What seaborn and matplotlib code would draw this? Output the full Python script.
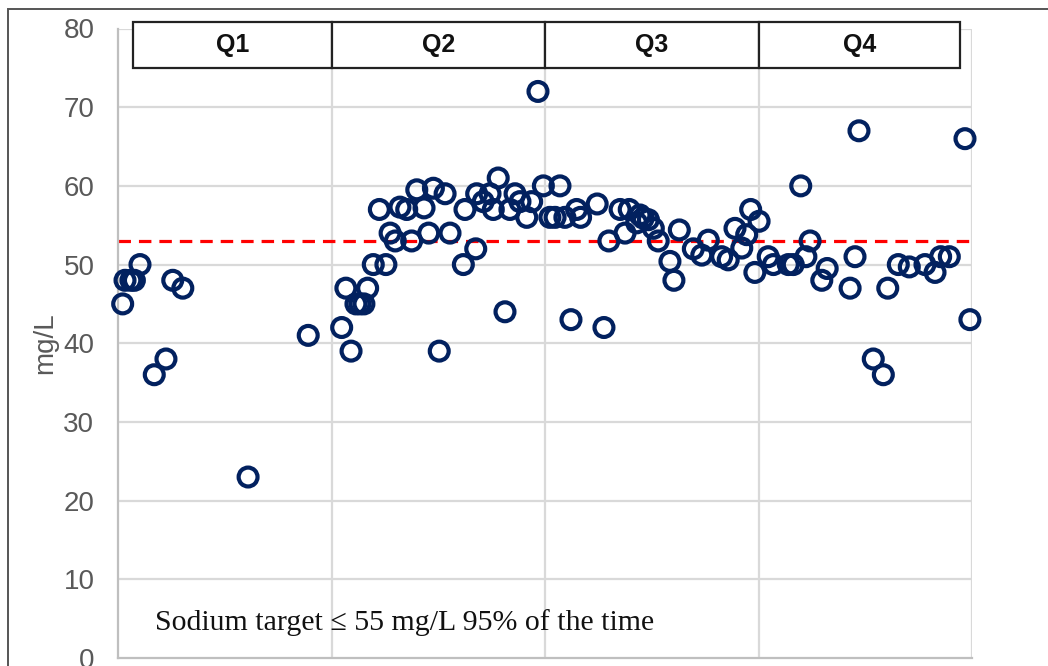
import matplotlib
matplotlib.use("Agg")
import matplotlib.pyplot as plt
from matplotlib.patches import Rectangle
import pandas as pd
import seaborn as sns

# Sampling day of the year for each sodium result
sample_day = [
    2, 3, 5.5, 7, 9.4, 15.5, 20.5, 23.4, 27.7, 55.6, 81.3,
    95.6, 97.4, 99.6, 101.7, 103.4, 105.1, 106.7, 109.1, 111.7, 114.5,
    116.3, 118.5, 120.5, 123.4, 125.5, 127.7, 130.8, 132.8, 134.8, 137.3,
    139.8, 141.9, 147.6, 148.3, 152.9, 153.3, 156.1, 159.0, 160.4, 162.5,
    165.4, 167.5, 169.7, 171.8, 174.7, 176.8, 179.5, 181.8, 184.6,
    186.8, 188.9, 191.0, 193.6, 196.0, 197.7, 204.8, 207.7, 209.8, 214.6,
    216.7, 218.5, 221.7, 223.1, 224.5, 226.7, 228.8, 230.9, 235.9, 237.6,
    239.9, 245.9, 249.5, 252.3, 258.0, 260.8, 263.7, 266.6, 268.7, 270.4,
    272.2, 274.0,
    277.9, 280.1, 286.5, 288.6, 291.8, 294.0, 295.8, 300.8, 303.1, 312.9,
    315.0, 316.7, 322.8, 327.1, 329.0, 333.5, 338.2, 344.9, 349.2, 351.6,
    355.3, 362.0, 364.1,
]

# Sodium concentration (mg/L)
sodium_mg_l = [
    45, 48, 48, 48, 50, 36, 38, 48, 47, 23, 41,
    42, 47, 39, 45, 45, 45, 47, 50, 57, 50,
    54, 53, 57.3, 57, 53, 59.5, 57.2, 54, 59.7, 39,
    59, 54, 50, 57, 52, 59, 58, 59, 57, 61,
    44, 57, 59, 58, 56, 58, 72, 60, 56,
    56, 60, 56, 43, 57, 56, 57.7, 42, 53, 57,
    54, 57, 55.3, 56.3, 55.9, 55.7, 54.6, 53, 50.4, 48,
    54.4, 52, 51.2, 53.1, 51, 50.6, 54.6, 52.1, 53.8, 57,
    49, 55.5,
    51, 50, 50, 50, 60, 51, 53, 48, 49.5, 47,
    51, 67, 38, 36, 47, 50, 49.7, 50, 49, 51,
    51, 66, 43,
]

quarter_labels = ["Q1", "Q2", "Q3", "Q4"]
quarter_edges = [0, 91.25, 182.5, 273.75, 365]
target_level = 53
y_ticks = [0, 10, 20, 30, 40, 50, 60, 70, 80]
note_text = "Sodium target \u2264 55 mg/L 95% of the time"

df = pd.DataFrame({"day": sample_day, "sodium": sodium_mg_l})

sns.set_theme(style="white")
plt.rcParams["font.family"] = ["Liberation Sans", "DejaVu Sans"]

fig = plt.figure(figsize=(10.48, 6.66), dpi=100)
ax = fig.add_axes([118 / 1048, 1 - 658 / 666, (972 - 118) / 1048, (658 - 28.5) / 666])

# Outer frame of the figure
fig.patches.append(Rectangle((8 / 1048, -0.05), 1.2, 1 - 9 / 666 + 0.05,
                             transform=fig.transFigure, fill=False,
                             edgecolor="#555555", linewidth=1.4, zorder=0))

# Grid lines
for yv in y_ticks[1:]:
    ax.axhline(yv, color="#d9d9d9", linewidth=1.6, zorder=0)
for xv in quarter_edges[1:]:
    ax.axvline(xv, color="#d9d9d9", linewidth=1.6, zorder=0)

sns.scatterplot(data=df, x="day", y="sodium", ax=ax, marker="o", s=185,
                facecolor="none", edgecolor="#02215f", linewidth=3.0,
                zorder=3, legend=False, clip_on=False)

ax.axhline(target_level, color="#ff0000", linewidth=2.3, dashes=(3.9, 2.5), zorder=2)

ax.set_xlim(quarter_edges[0], quarter_edges[-1])
ax.set_ylim(0, 80)
ax.set_yticks(y_ticks)
ax.set_xticks([])
ax.tick_params(axis="y", length=0, pad=17, labelsize=20, labelcolor="#595959")
ax.set_xlabel("")
ax.set_ylabel("mg/L", fontsize=20, color="#595959", labelpad=4)

for side in ["top", "right"]:
    ax.spines[side].set_visible(False)
for side in ["left", "bottom"]:
    ax.spines[side].set_color("#bfbfbf")
    ax.spines[side].set_linewidth(1.6)

# Quarter header boxes
box_left, box_right = 6.4, 359.9
box_bottom, box_top = 75, 80.8
bounds = [box_left] + quarter_edges[1:4] + [box_right]
for i, lab in enumerate(quarter_labels):
    ax.add_patch(Rectangle((bounds[i], box_bottom), bounds[i + 1] - bounds[i],
                           box_top - box_bottom, fill=True, facecolor="white",
                           edgecolor="#222222", linewidth=1.6, clip_on=False, zorder=5))
    ax.text((bounds[i] + bounds[i + 1]) / 2, (box_bottom + box_top) / 2, lab,
            ha="center", va="center", fontsize=18, fontweight="bold",
            color="#111111", zorder=6, clip_on=False)

ax.text(15.8, 4.5, note_text, ha="left", va="center", fontsize=21.5,
        family=["Liberation Serif", "DejaVu Serif"], color="#111111", zorder=4)

fig.savefig("out.png", dpi=100)
